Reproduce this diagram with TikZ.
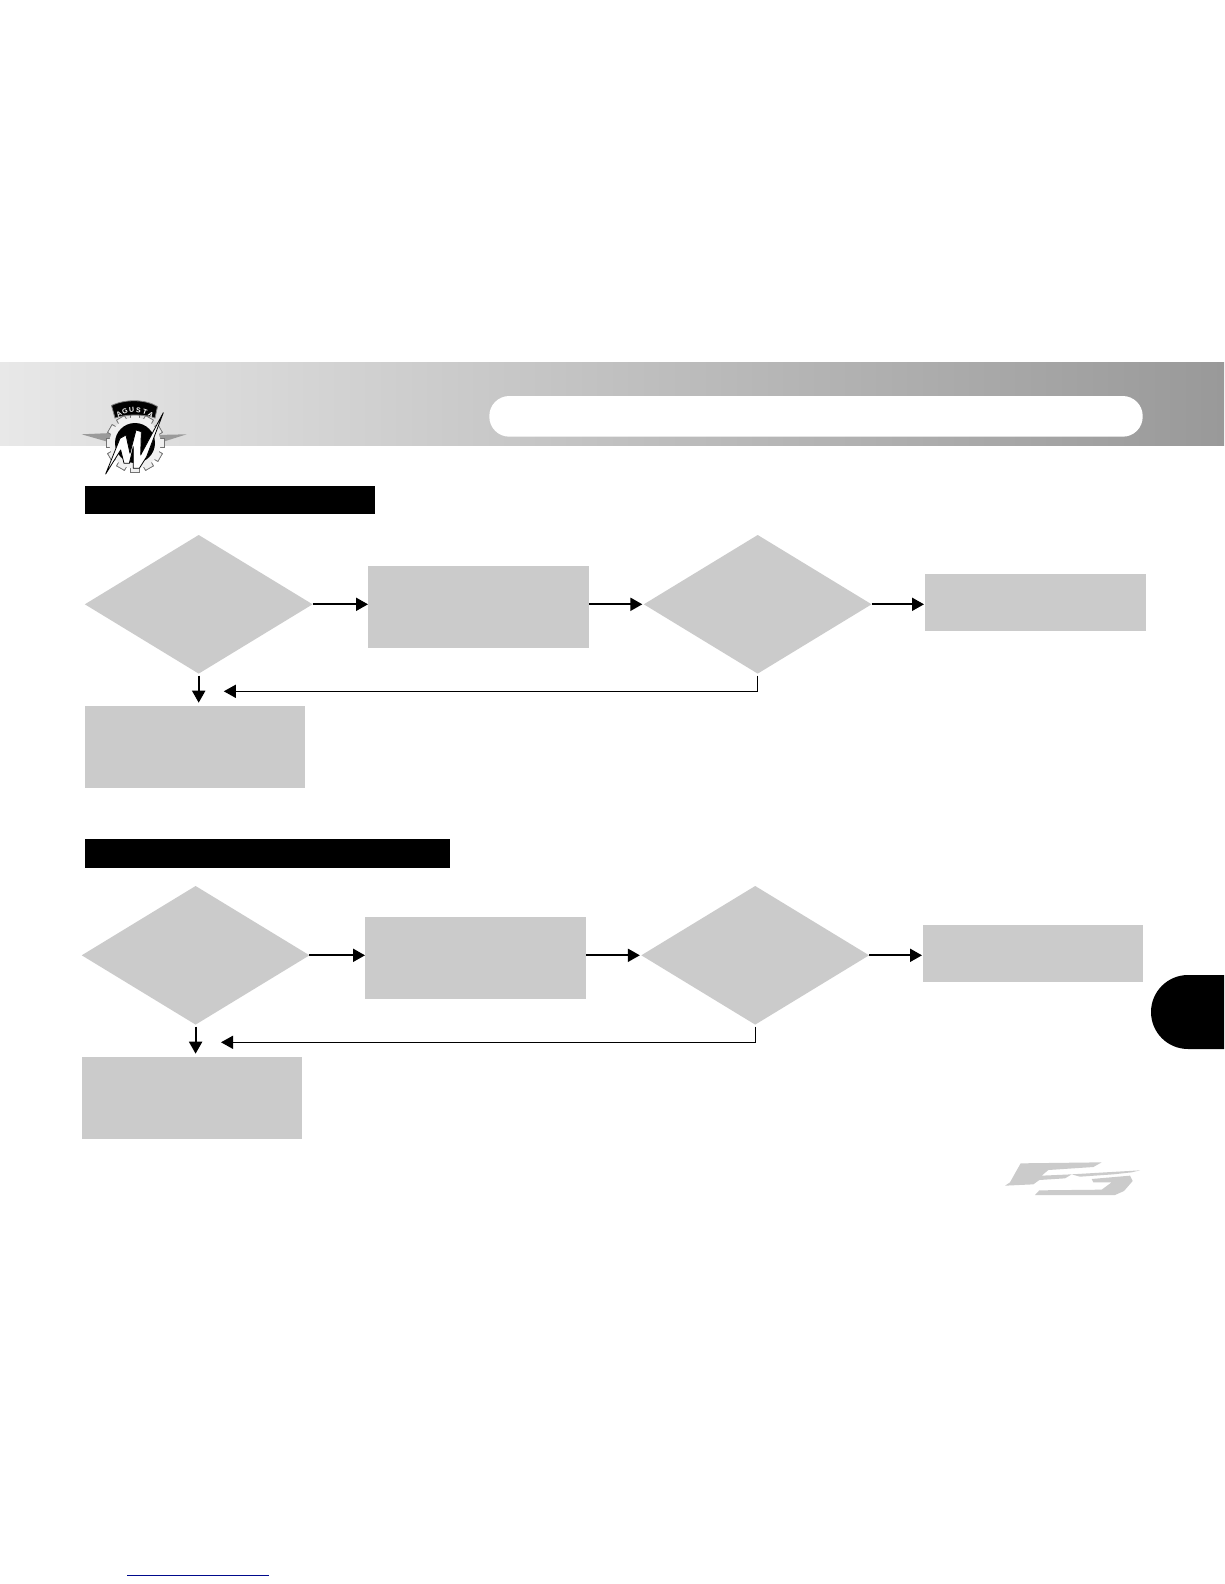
\documentclass[tikz,border=0pt]{standalone}
\usepackage{fontspec}
\setmainfont{Liberation Sans}
\usetikzlibrary{shapes.geometric,arrows.meta}
\definecolor{boxgray}{HTML}{CBCBCB}
\definecolor{wingray}{HTML}{9A9A9A}
\definecolor{linkblue}{HTML}{000A8C}
\tikzset{
  flowbox/.style={rectangle,fill=boxgray,inner sep=0pt,outer sep=0pt},
  decision/.style={diamond,fill=boxgray,inner sep=0pt,outer sep=0pt,shape aspect=1.643,minimum width=227.7pt,minimum height=138.6pt},
  titlebar/.style={rectangle,fill=black,inner sep=0pt,outer sep=0pt},
  flowarrow/.style={draw=black,line width=2pt,-{Triangle[length=12pt,width=13pt]}},
  backarrow/.style={draw=black,line width=1.3pt,-{Triangle[length=12pt,width=13pt]}},
  gearpart/.style={fill=gray!12,draw=black!55,line width=0.7pt},
  logoletter/.style={text=white,font=\bfseries\fontsize{7}{7}\selectfont,inner sep=0pt}
}
\begin{document}
\begin{tikzpicture}[x=1pt,y=-1pt]
\useasboundingbox (0,0) rectangle (1224,1584);
\fill[white] (0,0) rectangle (1224,1584);
% header band
\shade[left color=black!9,right color=black!40] (0,362.7) rectangle (1224,445);
\fill[white,rounded corners=20pt] (489.3,396) rectangle (1142.7,436.7);
% logo
\begin{scope}
  \fill[wingray] (81.7,434.3) -- (112,433) -- (112,443) -- cycle;
  \fill[wingray] (186.7,434.3) -- (156,435) -- (156,444) -- cycle;
  \foreach \a in {0,30,...,330}{
    \fill[gearpart,rotate around={\a:(135,443)}] (130.5,414) rectangle (139.5,472);
  }
  \fill[gearpart,draw=none] (135,443) circle[radius=25.5];
  \fill[black] (135,443) circle[radius=20];
  \fill[black,draw=gray,line width=0.8pt] (111.5,405.5) .. controls (125,399) and (145,399) .. (157.5,406.5) -- (155,418) .. controls (145,414) and (125,414) .. (115,418) -- cycle;
  \foreach \lett/\ang in {A/-32,G/-19.5,U/-6.5,S/6.5,T/19.5,A/32}{
    \node[logoletter,rotate=-\ang] at ({135+30*sin(\ang)},{440-30*cos(\ang)}) {\lett};
  }
  \begin{scope}[shift={(100,400)},x=0.3333pt,y=-0.3333pt]
    \fill[white,draw=black,line width=0.8pt,line join=round]
      (17,222) -- (60,115) -- (78,105) -- (90,160) -- (108,90) -- (124,95) -- (122,165)
      -- (190,38) -- (140,170) -- (118,205) -- (100,205) -- (100,140) -- (88,190) -- (72,190)
      -- (62,150) -- cycle;
  \end{scope}
\end{scope}
% section 1
\node[titlebar,minimum width=290pt,minimum height=28pt] (bar1) at (230,500) {};
\node[decision] (d1) at (198.7,604.3) {};
\node[flowbox,minimum width=221pt,minimum height=81.7pt] (p1) at (478.5,606.85) {};
\node[decision] (d2) at (757.7,604.3) {};
\node[flowbox,minimum width=221.2pt,minimum height=56.7pt] (r1) at (1035.6,602.35) {};
\node[flowbox,minimum width=220pt,minimum height=81.7pt] (s1) at (195,746.85) {};
\coordinate (fb1) at (223.8,691.3);
\draw[flowarrow] (d1.east) -- (d1.east -| p1.west);
\draw[flowarrow,shorten >=1.5pt] (p1.east |- d2.west) -- (d2.west);
\draw[flowarrow,shorten >=1pt] (d2.east) -- (d2.east -| r1.west);
\draw[flowarrow,shorten <=2pt,shorten >=3.3pt] (d1.south) -- (d1.south |- s1.north);
\draw[backarrow,shorten <=2pt] (d2.south) |- (fb1);
% section 2
\node[titlebar,minimum width=365pt,minimum height=29pt] (bar2) at (267.5,853.5) {};
\node[decision] (d3) at (195.6,955.3) {};
\node[flowbox,minimum width=221pt,minimum height=82pt] (p2) at (475.5,958) {};
\node[decision] (d4) at (755.2,955.3) {};
\node[flowbox,minimum width=220pt,minimum height=57pt] (r2) at (1033,953.5) {};
\node[flowbox,minimum width=220.1pt,minimum height=82pt] (s2) at (191.85,1098) {};
\coordinate (fb2) at (221,1042.3);
\draw[flowarrow] (d3.east) -- (d3.east -| p2.west);
\draw[flowarrow,shorten >=1.5pt] (p2.east |- d4.west) -- (d4.west);
\draw[flowarrow,shorten >=1pt] (d4.east) -- (d4.east -| r2.west);
\draw[flowarrow,shorten <=2pt,shorten >=3.3pt] (d3.south) -- (d3.south |- s2.north);
\draw[backarrow,shorten <=2pt] (d4.south) |- (fb2);
% side tab
\fill[black] (1224,975) [rounded corners=37pt] -- (1151,975) -- (1151,1049) [sharp corners] -- (1224,1049) -- cycle;
% F3 mark
\begin{scope}[shift={(1000,1155)},x=0.3333pt,y=-0.3333pt]
  \fill[boxgray] (62,25) -- (305,22) -- (280,36) -- (145,45) -- (125,62) -- (215,58) -- (195,70) -- (118,75) -- (100,88) -- (15,92) -- (30,82) -- (45,55) -- cycle;
  \fill[boxgray] (215,58) -- (420,46) -- (395,52) -- (340,58) -- (240,65) -- cycle;
  \fill[boxgray] (275,72) -- (390,62) -- (398,78) -- (372,108) -- (345,120) -- (105,120) -- (118,106) -- (305,104) -- (335,82) -- (280,82) -- cycle;
\end{scope}
% footer rule
\draw[linkblue,line width=1pt] (127,1575.3) -- (268.7,1575.3);
\end{tikzpicture}
\end{document}
